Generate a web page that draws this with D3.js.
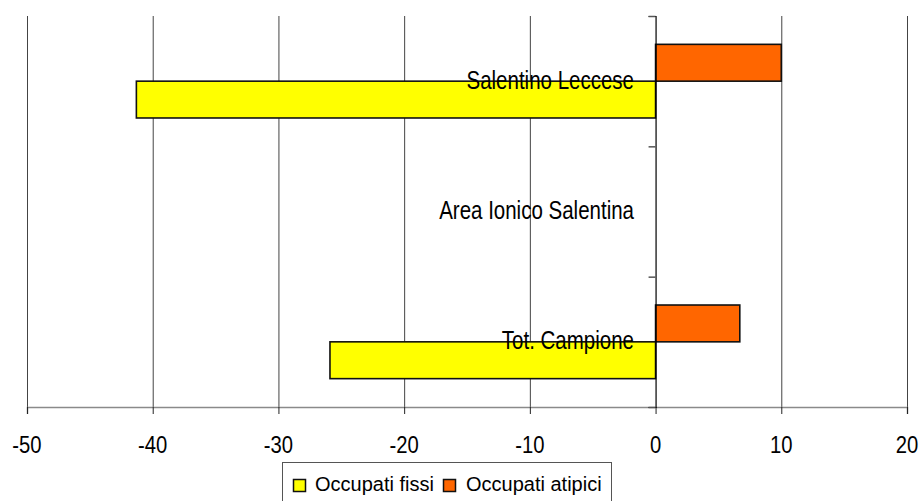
<!DOCTYPE html>
<html>
<head>
<meta charset="utf-8">
<script src="https://cdn.jsdelivr.net/npm/d3@7"></script>
<style>
  html, body { margin: 0; padding: 0; background: #fff; }
  svg { display: block; font-family: "Liberation Sans", Arial, sans-serif; }
</style>
</head>
<body>
<svg id="chart" width="920" height="501"></svg>
<script>
// Categories (top to bottom) and the two series of percentage changes
const categories = ["Salentino Leccese", "Area Ionico Salentina", "Tot. Campione"];
const occupatiFissi = [-41.3, null, -25.9];
const occupatiAtipici = [10.0, null, 6.7];
const seriesNames = ["Occupati fissi", "Occupati atipici"];
const seriesColors = ["#FFFF00", "#FF6600"];
const xTicks = [-50, -40, -30, -20, -10, 0, 10, 20];

const svg = d3.select("#chart");

const x = d3.scaleLinear().domain([-50, 20]).range([27, 907]);
const y = d3.scaleBand().domain(categories).range([16, 407]).padding(0);
// within each category: atipici above, fissi below
const sub = d3.scaleBand().domain(["atipici", "fissi"]).range([0, y.bandwidth()])
  .paddingInner(0).paddingOuter(0.77);

// vertical gridlines
svg.append("g").selectAll("line")
  .data(xTicks.filter(d => d !== 0))
  .join("line")
  .attr("x1", d => x(d) + 0.5).attr("x2", d => x(d) + 0.5)
  .attr("y1", 16).attr("y2", 407)
  .attr("stroke", "#444").attr("stroke-width", 1);

// bottom axis
const xAxis = svg.append("g")
  .attr("transform", "translate(0,407)")
  .call(d3.axisBottom(x).tickValues(xTicks).tickSize(7).tickFormat(""));
xAxis.select(".domain").attr("stroke", "#8a8a8a").attr("stroke-width", 1.5);
xAxis.selectAll(".tick line").attr("stroke", "#222").attr("stroke-width", 1);

// tick labels, slightly condensed
svg.append("g").selectAll("text")
  .data(xTicks)
  .join("text")
  .attr("transform", d => `translate(${x(d)},453) scale(0.88,1)`)
  .attr("text-anchor", "middle")
  .attr("font-size", 23)
  .attr("fill", "#000")
  .text(d => String(d));

// bars
const rows = categories.map((c, i) => ({ c, fissi: occupatiFissi[i], atipici: occupatiAtipici[i] }));
const barData = [];
rows.forEach(r => {
  if (r.atipici != null) barData.push({ c: r.c, key: "atipici", v: r.atipici, color: seriesColors[1] });
  if (r.fissi != null) barData.push({ c: r.c, key: "fissi", v: r.fissi, color: seriesColors[0] });
});
svg.append("g").selectAll("rect")
  .data(barData)
  .join("rect")
  .attr("x", d => Math.min(x(0), x(d.v)))
  .attr("y", d => y(d.c) + sub(d.key))
  .attr("width", d => Math.abs(x(d.v) - x(0)))
  .attr("height", sub.bandwidth())
  .attr("fill", d => d.color)
  .attr("stroke", "#111")
  .attr("stroke-width", 1.6);

// zero axis with category boundary ticks
const yBound = d3.scaleLinear().domain([0, categories.length]).range([16, 407]);
const yAxis = svg.append("g")
  .attr("transform", `translate(${x(0)},0)`)
  .call(d3.axisLeft(yBound).tickValues(d3.range(categories.length + 1)).tickSize(7).tickFormat(""));
yAxis.select(".domain").attr("stroke", "#000").attr("stroke-width", 1.2);
yAxis.selectAll(".tick line").attr("stroke", "#555").attr("stroke-width", 1.5);

// category labels, drawn over the bars
svg.append("g").selectAll("text")
  .data(categories)
  .join("text")
  .attr("transform", d => `translate(634,${y(d) + y.bandwidth() / 2 + 7.5}) scale(0.82,1)`)
  .attr("text-anchor", "end")
  .attr("font-size", 25)
  .attr("fill", "#000")
  .text(d => d);

// legend
const legend = svg.append("g");
legend.append("rect")
  .attr("x", 282.5).attr("y", 462.5).attr("width", 329).attr("height", 50)
  .attr("fill", "#fff").attr("stroke", "#555").attr("stroke-width", 1);
const legendItems = [
  { name: seriesNames[0], color: seriesColors[0], sx: 293, tx: 315 },
  { name: seriesNames[1], color: seriesColors[1], sx: 443, tx: 466 }
];
legendItems.forEach(it => {
  legend.append("rect")
    .attr("x", it.sx + 0.5).attr("y", 479.5).attr("width", 12).attr("height", 12)
    .attr("fill", it.color).attr("stroke", "#111").attr("stroke-width", 1.5);
  legend.append("text")
    .attr("x", it.tx).attr("y", 490.5)
    .attr("font-size", 20)
    .attr("fill", "#000")
    .text(it.name);
});
</script>
</body>
</html>
